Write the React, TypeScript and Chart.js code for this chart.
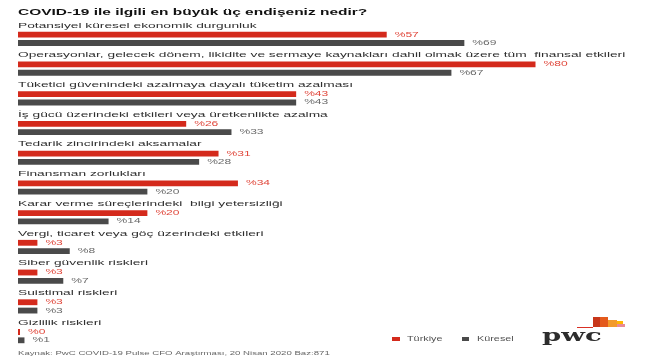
import React, { useEffect, useRef } from "react";
import { Chart, registerables } from "chart.js";

Chart.register(...registerables);

const title = "COVID-19 ile ilgili en büyük üç endişeniz nedir?";
const categories = [
  "Potansiyel küresel ekonomik durgunluk",
  "Operasyonlar, gelecek dönem, likidite ve sermaye kaynakları dahil olmak üzere tüm  finansal etkileri",
  "Tüketici güvenindeki azalmaya dayalı tüketim azalması",
  "İş gücü üzerindeki etkileri veya üretkenlikte azalma",
  "Tedarik zincirindeki aksamalar",
  "Finansman zorlukları",
  "Karar verme süreçlerindeki  bilgi yetersizliği",
  "Vergi, ticaret veya göç üzerindeki etkileri",
  "Siber güvenlik riskleri",
  "Suistimal riskleri",
  "Gizlilik riskleri",
];
const turkiye = [57, 80, 43, 26, 31, 34, 20, 3, 3, 3, 0];
const kuresel = [69, 67, 43, 33, 28, 20, 14, 8, 7, 3, 1];
const seriesNames = ["Türkiye", "Küresel"];
const source = "Kaynak: PwC COVID-19 Pulse CFO Araştırması, 20 Nisan 2020 Baz:871";

const RED = "#d42a1c";
const GRAY = "#4a4a4a";
const RED_TEXT = "#e0463a";
const GRAY_TEXT = "#6a6a6a";
const SX = 1.72;
const FONT = "'Liberation Sans', Arial, sans-serif";

function txt(ctx: CanvasRenderingContext2D, s: string, x: number, y: number, font: string, color: string, sx = SX) {
  ctx.save();
  ctx.translate(x, y);
  ctx.scale(sx, 1);
  ctx.font = font;
  ctx.fillStyle = color;
  ctx.textBaseline = "middle";
  ctx.textAlign = "left";
  ctx.fillText(s, 0, 0);
  ctx.restore();
}

const decorPlugin = {
  id: "decor",
  afterDatasetsDraw(chart: any) {
    const ctx: CanvasRenderingContext2D = chart.ctx;
    const yScale = chart.scales.y;
    // title
    txt(ctx, title, 18, 13, `bold 9px ${FONT}`, "#111");
    // category labels
    categories.forEach((c, i) => {
      const yc = yScale.getPixelForValue(i);
      txt(ctx, c, 18, yc - 13.5, `8px ${FONT}`, "#2f2f2f");
    });
    // value labels
    const colors = [RED_TEXT, GRAY_TEXT];
    chart.data.datasets.forEach((ds: any, di: number) => {
      const meta = chart.getDatasetMeta(di);
      meta.data.forEach((bar: any, i: number) => {
        txt(ctx, "%" + ds.data[i], bar.x + 8, bar.y, `7px ${FONT}`, colors[di]);
      });
    });
    // legend
    const legendColors = [RED, GRAY];
    const lx = [392, 462];
    seriesNames.forEach((n, i) => {
      ctx.fillStyle = legendColors[i];
      ctx.fillRect(lx[i], 337, i === 0 ? 8 : 7, 4);
      txt(ctx, n, lx[i] + 15, 339.5, `6.3px ${FONT}`, "#555");
    });
    // pwc logo
    txt(ctx, "pwc", 542, 337, `bold 16px 'DejaVu Serif', serif`, "#2d2d2d", 1.72);
    ctx.fillStyle = "#d93025";
    ctx.fillRect(577, 327, 16, 1);
    ctx.fillStyle = "#c8361a";
    ctx.fillRect(593, 317, 7, 10);
    ctx.fillStyle = "#e45a1c";
    ctx.fillRect(600, 317, 8, 10);
    ctx.fillStyle = "#f39a2a";
    ctx.fillRect(608, 320, 9, 7);
    ctx.fillStyle = "#ffb600";
    ctx.fillRect(617, 321, 6, 3);
    ctx.fillStyle = "#e88a96";
    ctx.fillRect(617, 324, 8, 3);
    // footer
    txt(ctx, source, 18, 353, `5.6px ${FONT}`, "#666");
  },
};

export default function App() {
  const ref = useRef<HTMLCanvasElement>(null);
  useEffect(() => {
    document.body.style.margin = "0";
    const chart = new Chart(ref.current!, {
      type: "bar",
      data: {
        labels: categories,
        datasets: [
          { label: seriesNames[0], data: turkiye, backgroundColor: RED, minBarLength: 2 },
          { label: seriesNames[1], data: kuresel, backgroundColor: GRAY },
        ],
      },
      options: {
        indexAxis: "y",
        responsive: false,
        animation: false,
        devicePixelRatio: 1,
        categoryPercentage: 0.56,
        barPercentage: 0.7,
        layout: { padding: { left: 18, right: 11, top: 24, bottom: 9 } },
        scales: {
          x: { display: false, min: 0, max: 96 },
          y: { display: false },
        },
        plugins: { legend: { display: false }, tooltip: { enabled: false }, title: { display: false } },
      } as any,
      plugins: [decorPlugin],
    });
    return () => chart.destroy();
  }, []);
  return (
    <div style={{ width: 650, height: 360, background: "#fff" }}>
      <canvas ref={ref} width={650} height={360} style={{ display: "block" }} />
    </div>
  );
}
